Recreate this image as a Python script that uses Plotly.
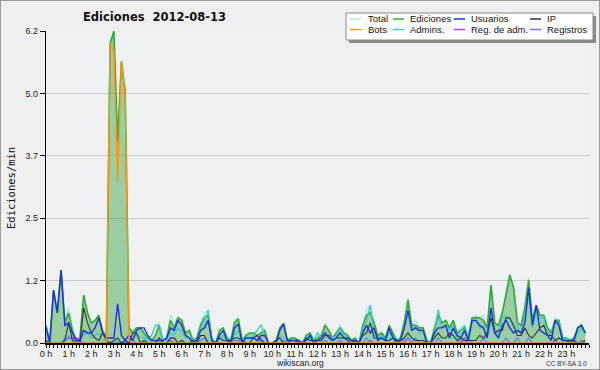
import plotly.graph_objects as go

# ---- data (10-minute resolution, 144 points per series) ----
hour_labels = [f"{h} h" for h in range(24)]
step_minutes = 10

ediciones = [
    0.35, 0.02, 1.05, 0.6, 1.45, 0.4,
    0.6, 0.25, 0.05, 0.1, 0.95, 0.6,
    0.4, 0.45, 0.55, 0.25, 0.1, 5.95,
    6.2, 4.0, 5.6, 5.0, 0.3, 0.2,
    0.3, 0.3, 0.2, 0.1, 0.05, 0.15,
    0.35, 0.05, 0.1, 0.45, 0.3, 0.5,
    0.45, 0.2, 0.25, 0.05, 0.1, 0.35,
    0.5, 0.55, 0.05, 0.0, 0.25, 0.3,
    0.1, 0.05, 0.4, 0.48, 0.05, 0.15,
    0.2, 0.2, 0.15, 0.2, 0.25, 0.0,
    0.0, 0.05, 0.3, 0.38, 0.05, 0.1,
    0.1, 0.05, 0.0, 0.15, 0.2, 0.05,
    0.1, 0.15, 0.35, 0.25, 0.1, 0.2,
    0.3, 0.2, 0.15, 0.05, 0.1, 0.0,
    0.35, 0.55, 0.6, 0.4, 0.15, 0.2,
    0.1, 0.35, 0.2, 0.05, 0.1, 0.4,
    0.85, 0.35, 0.35, 0.3, 0.3, 0.05,
    0.0, 0.3, 0.55, 0.4, 0.45, 0.3,
    0.45, 0.2, 0.25, 0.3, 0.1, 0.5,
    0.5, 0.5, 0.45, 0.3, 1.15, 0.4,
    0.35, 0.6, 0.95, 1.35, 1.1, 0.4,
    0.35, 0.7, 1.25, 0.45, 0.75, 0.55,
    0.55, 0.3, 0.2, 0.45, 0.45, 0.1,
    0.1, 0.05, 0.1, 0.3, 0.35, 0.2,
]

total = [
    0.35, 0.02, 1.05, 0.6, 1.45, 0.45,
    0.7, 0.35, 0.1, 0.1, 0.95, 0.6,
    0.4, 0.45, 0.55, 0.25, 0.1, 5.95,
    6.2, 4.0, 5.6, 5.0, 0.3, 0.25,
    0.3, 0.3, 0.2, 0.1, 0.15, 0.35,
    0.4, 0.05, 0.1, 0.55, 0.4, 0.5,
    0.45, 0.2, 0.25, 0.05, 0.1, 0.4,
    0.6, 0.65, 0.1, 0.0, 0.25, 0.3,
    0.1, 0.05, 0.45, 0.5, 0.05, 0.15,
    0.2, 0.2, 0.25, 0.36, 0.25, 0.0,
    0.0, 0.05, 0.3, 0.4, 0.05, 0.1,
    0.1, 0.05, 0.0, 0.15, 0.2, 0.05,
    0.2, 0.15, 0.4, 0.25, 0.1, 0.2,
    0.35, 0.2, 0.15, 0.05, 0.1, 0.0,
    0.35, 0.65, 0.75, 0.4, 0.15, 0.2,
    0.1, 0.35, 0.2, 0.05, 0.1, 0.45,
    0.9, 0.35, 0.45, 0.3, 0.3, 0.05,
    0.0, 0.3, 0.66, 0.4, 0.45, 0.3,
    0.45, 0.2, 0.3, 0.35, 0.2, 0.5,
    0.55, 0.5, 0.55, 0.3, 1.15, 0.4,
    0.35, 0.6, 1.05, 1.35, 1.1, 0.5,
    0.35, 0.75, 1.3, 0.45, 0.75, 0.55,
    0.55, 0.3, 0.2, 0.5, 0.45, 0.1,
    0.1, 0.05, 0.1, 0.3, 0.4, 0.2,
]

usuarios = [
    0.3, 0.0, 1.05, 0.6, 1.45, 0.35,
    0.4, 0.2, 0.05, 0.05, 0.25, 0.2,
    0.2, 0.3, 0.5, 0.2, 0.1, 0.1,
    0.1, 0.78, 0.15, 0.05, 0.15, 0.05,
    0.25, 0.3, 0.3, 0.15, 0.05, 0.05,
    0.05, 0.05, 0.1, 0.3, 0.25, 0.45,
    0.35, 0.15, 0.1, 0.0, 0.05, 0.25,
    0.3, 0.45, 0.05, 0.0, 0.15, 0.25,
    0.05, 0.0, 0.3, 0.38, 0.0, 0.1,
    0.1, 0.1, 0.05, 0.15, 0.15, 0.0,
    0.0, 0.0, 0.25, 0.38, 0.05, 0.05,
    0.05, 0.05, 0.0, 0.05, 0.15, 0.0,
    0.05, 0.1, 0.2, 0.1, 0.05, 0.1,
    0.2, 0.1, 0.1, 0.05, 0.05, 0.0,
    0.2, 0.35, 0.2, 0.3, 0.05, 0.1,
    0.05, 0.3, 0.1, 0.0, 0.05, 0.3,
    0.65, 0.25, 0.3, 0.25, 0.25, 0.0,
    0.0, 0.2, 0.3, 0.3, 0.35, 0.1,
    0.3, 0.15, 0.1, 0.25, 0.05, 0.45,
    0.45, 0.35, 0.3, 0.1, 0.7, 0.2,
    0.1, 0.35, 0.45, 0.3, 0.2, 0.25,
    0.2, 0.4, 1.1, 0.35, 0.75, 0.25,
    0.2, 0.15, 0.05, 0.45, 0.35, 0.05,
    0.05, 0.0, 0.05, 0.3, 0.35, 0.2,
]

ip = [
    0.05, 0.0, 0.0, 0.0, 0.0, 0.05,
    0.4, 0.05, 0.0, 0.0, 0.7, 0.4,
    0.2, 0.1, 0.05, 0.2, 0.05, 0.0,
    0.05, 0.1, 0.0, 0.05, 0.0, 0.2,
    0.2, 0.0, 0.05, 0.0, 0.0, 0.0,
    0.1, 0.0, 0.0, 0.1, 0.1, 0.0,
    0.05, 0.0, 0.0, 0.05, 0.0, 0.15,
    0.15, 0.0, 0.0, 0.0, 0.1, 0.05,
    0.05, 0.05, 0.1, 0.1, 0.05, 0.0,
    0.0, 0.1, 0.15, 0.05, 0.0, 0.0,
    0.0, 0.05, 0.1, 0.0, 0.0, 0.05,
    0.05, 0.0, 0.0, 0.1, 0.05, 0.05,
    0.05, 0.05, 0.15, 0.15, 0.05, 0.1,
    0.1, 0.1, 0.05, 0.0, 0.05, 0.0,
    0.15, 0.2, 0.4, 0.1, 0.1, 0.1,
    0.05, 0.05, 0.1, 0.05, 0.05, 0.1,
    0.2, 0.1, 0.05, 0.05, 0.05, 0.0,
    0.0, 0.1, 0.2, 0.1, 0.1, 0.2,
    0.15, 0.05, 0.1, 0.05, 0.05, 0.05,
    0.05, 0.15, 0.1, 0.2, 0.5, 0.2,
    0.25, 0.25, 0.5, 0.5, 0.35, 0.15,
    0.15, 0.3, 0.15, 0.1, 0.2, 0.3,
    0.35, 0.15, 0.15, 0.05, 0.1, 0.05,
    0.05, 0.05, 0.05, 0.0, 0.0, 0.05,
]

bots = [0.0] * 144
bots_spike_start = 16
bots_spike = [0.0, 5.95, 5.8, 3.2, 5.6, 4.9, 0.05]

admins = [
    0.3, 0.0, 0.0, 0.0, 0.0, 0.1,
    0.15, 0.05, 0.0, 0.05, 0.15, 0.2,
    0.1, 0.15, 0.2, 0.05, 0.0, 0.0,
    0.0, 0.05, 0.0, 0.0, 0.05, 0.1,
    0.2, 0.1, 0.1, 0.05, 0.15, 0.35,
    0.35, 0.05, 0.05, 0.2, 0.15, 0.3,
    0.2, 0.1, 0.1, 0.05, 0.05, 0.3,
    0.45, 0.65, 0.1, 0.0, 0.1, 0.15,
    0.05, 0.0, 0.15, 0.25, 0.05, 0.1,
    0.1, 0.15, 0.25, 0.36, 0.15, 0.0,
    0.0, 0.05, 0.15, 0.1, 0.05, 0.05,
    0.05, 0.0, 0.0, 0.1, 0.1, 0.05,
    0.2, 0.1, 0.2, 0.15, 0.1, 0.15,
    0.3, 0.15, 0.1, 0.05, 0.05, 0.0,
    0.25, 0.45, 0.75, 0.2, 0.1, 0.15,
    0.05, 0.2, 0.15, 0.0, 0.05, 0.3,
    0.65, 0.3, 0.3, 0.2, 0.25, 0.0,
    0.0, 0.15, 0.66, 0.3, 0.35, 0.25,
    0.35, 0.1, 0.25, 0.35, 0.1, 0.4,
    0.45, 0.3, 0.35, 0.1, 0.4, 0.3,
    0.15, 0.5, 0.55, 0.45, 0.3, 0.35,
    0.15, 0.6, 0.9, 0.3, 0.6, 0.5,
    0.5, 0.2, 0.15, 0.4, 0.4, 0.05,
    0.1, 0.0, 0.05, 0.2, 0.3, 0.15,
]

reg_adm = [
    0, 0, 0, 0, 0, 0.05,
    0.1, 0.1, 0.1, 0.05, 0, 0,
    0, 0, 0, 0, 0, 0,
    0, 0, 0, 0, 0, 0,
    0, 0, 0, 0, 0, 0,
    0, 0, 0, 0.05, 0, 0,
    0, 0, 0, 0, 0, 0,
    0, 0, 0, 0, 0, 0,
    0, 0, 0, 0, 0, 0,
    0, 0, 0, 0, 0, 0,
    0, 0, 0, 0, 0, 0,
    0, 0, 0, 0, 0, 0,
    0, 0, 0, 0, 0, 0,
    0, 0, 0, 0, 0, 0,
    0, 0, 0.05, 0, 0, 0,
    0, 0, 0, 0, 0, 0,
    0.1, 0, 0, 0, 0, 0,
    0, 0, 0, 0, 0, 0,
    0, 0, 0, 0.1, 0, 0,
    0, 0, 0, 0, 0, 0,
    0, 0, 0, 0, 0, 0,
    0, 0, 0, 0, 0, 0,
    0, 0, 0, 0, 0, 0,
    0, 0, 0, 0, 0, 0,
]

registros = [
    0, 0, 0, 0, 0, 0.05,
    0.1, 0.1, 0.05, 0, 0, 0,
    0, 0, 0, 0, 0, 0,
    0, 0, 0, 0, 0, 0.05,
    0, 0, 0, 0, 0, 0,
    0, 0, 0, 0.1, 0.1, 0,
    0, 0, 0, 0, 0, 0.05,
    0.1, 0, 0, 0, 0, 0,
    0, 0, 0.05, 0.05, 0, 0,
    0, 0, 0, 0.1, 0, 0,
    0, 0, 0, 0.05, 0, 0,
    0, 0, 0, 0, 0, 0,
    0, 0, 0.05, 0, 0, 0,
    0.05, 0, 0, 0, 0, 0,
    0, 0.1, 0, 0, 0, 0,
    0, 0, 0, 0, 0, 0.05,
    0.1, 0, 0.1, 0, 0, 0,
    0, 0, 0.1, 0, 0, 0,
    0, 0, 0.05, 0, 0.1, 0,
    0, 0, 0.1, 0, 0, 0,
    0, 0, 0.1, 0, 0, 0.1,
    0, 0, 0.1, 0, 0, 0,
    0, 0, 0, 0.05, 0, 0,
    0, 0, 0, 0, 0.05, 0,
]

y_tick_values = [0, 1.24, 2.48, 3.72, 4.96, 6.2]
y_tick_text = ["0.0", "1.2", "2.5", "3.7", "5.0", "6.2"]

# ---- build ----
for k, v in enumerate(bots_spike):
    bots[bots_spike_start + k] = v

t = [i * step_minutes / 60 for i in range(len(ediciones))]

colors = {
    "Total": "#a8e6e2",
    "Ediciones": "#36a838",
    "Usuarios": "#1f2fe0",
    "IP": "#333333",
    "Bots": "#ff9410",
    "Admins.": "#2ecfcf",
    "Reg. de adm.": "#c03ae0",
    "Registros": "#7a6cf0",
}

fig = go.Figure()
fig.add_trace(go.Scatter(x=t, y=total, mode="lines", name="Total",
                         line=dict(color=colors["Total"], width=1.3)))
fig.add_trace(go.Scatter(x=t, y=ediciones, mode="lines", name="Ediciones",
                         fill="tozeroy", fillcolor="rgba(70,170,80,0.5)",
                         line=dict(color=colors["Ediciones"], width=1.6)))
fig.add_trace(go.Scatter(x=t, y=admins, mode="lines", name="Admins.",
                         line=dict(color=colors["Admins."], width=1.2)))
fig.add_trace(go.Scatter(x=t, y=reg_adm, mode="lines", name="Reg. de adm.",
                         line=dict(color=colors["Reg. de adm."], width=1.2)))
fig.add_trace(go.Scatter(x=t, y=registros, mode="lines", name="Registros",
                         line=dict(color=colors["Registros"], width=1.2)))
fig.add_trace(go.Scatter(x=t, y=ip, mode="lines", name="IP",
                         line=dict(color=colors["IP"], width=1.1)))
fig.add_trace(go.Scatter(x=t, y=usuarios, mode="lines", name="Usuarios",
                         line=dict(color=colors["Usuarios"], width=1.4)))
fig.add_trace(go.Scatter(x=t, y=bots, mode="lines", name="Bots",
                         line=dict(color=colors["Bots"], width=1.4)))

L, R, T, B = 46, 11, 31, 27
W = 600 - L - R
H = 370 - T - B


def px(x):
    return (x - L) / W


def py(y):
    return (370 - B - y) / H


font_main = "Liberation Sans, Arial, sans-serif"

fig.update_layout(
    width=600, height=370,
    margin=dict(l=L, r=R, t=T, b=B),
    paper_bgcolor="#efefef",
    plot_bgcolor="#eef0f2",
    showlegend=False,
    font=dict(family=font_main, size=9, color="#222222"),
)
fig.update_xaxes(
    range=[0, 24],
    tickmode="array",
    tickvals=list(range(24)),
    ticktext=hour_labels,
    ticks="outside", ticklen=3, tickwidth=1, tickcolor="black",
    minor=dict(tickmode="linear", tick0=0, dtick=1 / 6, ticks="outside",
               ticklen=3, tickwidth=1, tickcolor="black", showgrid=False),
    showline=True, linecolor="black", linewidth=2,
    showgrid=False, zeroline=False,
    ticklabelstandoff=-2,
    tickfont=dict(size=9, family=font_main, color="#222222"),
)
fig.update_yaxes(
    range=[0, 6.2],
    tickmode="array",
    tickvals=y_tick_values,
    ticktext=y_tick_text,
    ticks="outside", ticklen=5, tickwidth=1, tickcolor="black",
    showline=True, linecolor="black", linewidth=1.2,
    showgrid=True, gridcolor="#cbcbcb", gridwidth=1,
    zeroline=False,
    tickfont=dict(size=9, family=font_main, color="#222222"),
)

shapes = []
annotations = []

# outer border
shapes.append(dict(type="rect", xref="paper", yref="paper",
                   x0=px(0), x1=px(600), y0=py(370), y1=py(0),
                   line=dict(color="#9a9a9a", width=2), fillcolor="rgba(0,0,0,0)",
                   layer="above"))

# title
annotations.append(dict(text="<b>Ediciones&nbsp; 2012-08-13</b>", xref="paper", yref="paper",
                        x=px(154), y=py(17), showarrow=False, xanchor="center", yanchor="middle",
                        font=dict(family="DejaVu Sans, sans-serif", size=11.5, color="#111111")))
# y axis title
annotations.append(dict(text="Ediciones/min", xref="paper", yref="paper",
                        x=px(11), y=py(188), showarrow=False, textangle=-90,
                        xanchor="center", yanchor="middle",
                        font=dict(family="DejaVu Sans Mono, monospace", size=10.5, color="#111111")))
# footer
annotations.append(dict(text="wikiscan.org", xref="paper", yref="paper",
                        x=px(300), y=py(363), showarrow=False, xanchor="center", yanchor="middle",
                        font=dict(family=font_main, size=8.5, color="#222222")))
annotations.append(dict(text="CC BY-SA 3.0", xref="paper", yref="paper",
                        x=px(589), y=py(363), showarrow=False, xanchor="right", yanchor="middle",
                        font=dict(family=font_main, size=6.5, color="#333333")))

# legend box (shadow + box)
shapes.append(dict(type="rect", xref="paper", yref="paper",
                   x0=px(349), x1=px(596), y0=py(43), y1=py(16),
                   line=dict(width=0), fillcolor="#8a8a8a", layer="above"))
shapes.append(dict(type="rect", xref="paper", yref="paper",
                   x0=px(346), x1=px(593), y0=py(40), y1=py(13),
                   line=dict(color="#888888", width=1), fillcolor="white", layer="above"))

legend_rows = [
    [("Total", 350, 366), ("Ediciones", 393, 408), ("Usuarios", 454, 469), ("IP", 530, 545)],
    [("Bots", 350, 366), ("Admins.", 393, 408), ("Reg. de adm.", 454, 469), ("Registros", 530, 545)],
]
row_y = [19, 29.5]
for r, row in enumerate(legend_rows):
    for name, lx, tx in row:
        shapes.append(dict(type="line", xref="paper", yref="paper",
                           x0=px(lx), x1=px(lx + 11), y0=py(row_y[r]), y1=py(row_y[r]),
                           line=dict(color=colors[name], width=1.5), layer="above"))
        annotations.append(dict(text=name, xref="paper", yref="paper",
                                x=px(tx), y=py(row_y[r]), showarrow=False,
                                xanchor="left", yanchor="middle",
                                font=dict(family=font_main, size=9.5, color="#111111")))

fig.update_layout(shapes=shapes, annotations=annotations)

fig.write_html("out.html")
